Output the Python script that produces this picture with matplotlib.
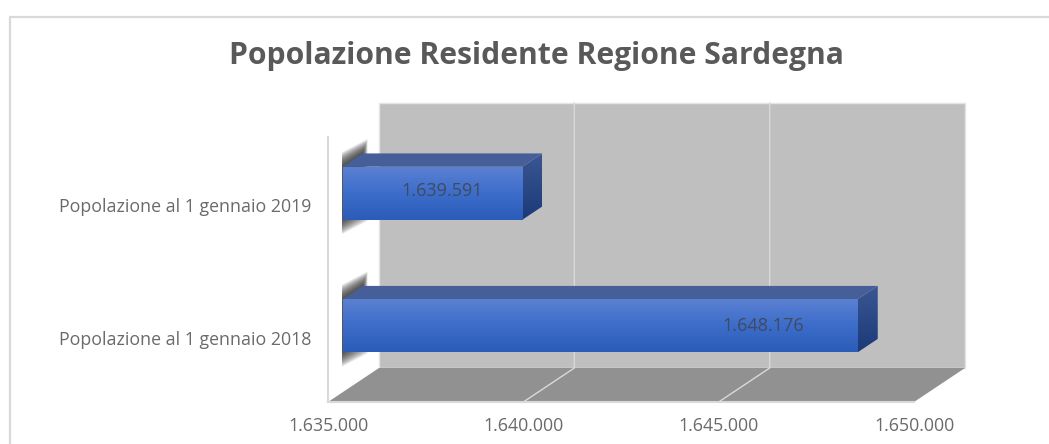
import numpy as np
import matplotlib
matplotlib.use("Agg")
import matplotlib.pyplot as plt
from matplotlib.lines import Line2D
from matplotlib.patches import Polygon
from matplotlib.colors import LinearSegmentedColormap

categories = ["Popolazione al 1 gennaio 2018", "Popolazione al 1 gennaio 2019"]
values = [1648176, 1639591]
value_labels = ["1.648.176", "1.639.591"]
xticks = [1635000, 1640000, 1645000, 1650000]
xticklabels = ["1.635.000", "1.640.000", "1.645.000", "1.650.000"]

W, H = 1049, 444
plt.rcParams["font.family"] = ["Open Sans", "DejaVu Sans"]
fig = plt.figure(figsize=(W / 100, H / 100), dpi=100, facecolor="white")

# chart frame: left and top edges are all that show in the crop
fig.add_artist(Line2D([9.5 / W, 9.5 / W, 1], [0, 1 - 17 / H, 1 - 17 / H], transform=fig.transFigure,
                      color="#d9d9d9", lw=1.6))
fig.text(536.5 / W, 1 - 56 / H, "Popolazione Residente Regione Sardegna", ha="center", va="center",
         fontsize=21.7, fontweight="bold", color="#595959")

L, R, T, B = 328, 914, 137, 402
ax = fig.add_axes([L / W, 1 - B / H, (R - L) / W, (B - T) / H])
x0, x1 = xticks[0], xticks[-1]
y0, y1 = -0.5, 1.5
ax.set_axis_off()

# depth vector, in data units
DX = 51 / (R - L) * (x1 - x0)
DY = 34 / (B - T) * (y1 - y0)
PXX = (x1 - x0) / (R - L)
PXY = (y1 - y0) / (B - T)

def p(x, y, d=0.0):
    return (x + d * DX, y + d * DY)

def poly(pts, **kw):
    kw.setdefault("lw", 0)
    kw.setdefault("clip_on", False)
    g = Polygon(pts, closed=True, **kw)
    ax.add_patch(g)
    return g

def grad(pts, cols, z):
    clip = poly(pts, fc="none", zorder=z)
    xs = [q[0] for q in pts]
    ys = [q[1] for q in pts]
    cm = LinearSegmentedColormap.from_list("g", cols)
    im = ax.imshow(np.linspace(0, 1, 64)[:, None], cmap=cm, aspect="auto", origin="upper",
                   extent=(min(xs), max(xs), min(ys), max(ys)), zorder=z, interpolation="bilinear")
    im.set_clip_path(clip)

# back wall and floor
poly([p(x0, y0, 1), p(x1, y0, 1), p(x1, y1, 1), p(x0, y1, 1)], fc="#bfbfbf", ec="#e4e4e4", lw=1.0, zorder=1)
poly([p(x0, y0, 0), p(x1, y0, 0), p(x1, y0, 1), p(x0, y0, 1)], fc="#919191", zorder=2)
ax.plot(*zip(p(x0, y0), p(x0, y1)), color="#d9d9d9", lw=1.5, clip_on=False, zorder=2)
ax.plot(*zip(p(x0, y0), p(x1, y0)), color="#d9d9d9", lw=1.5, clip_on=False, zorder=2)

# gridlines on floor and wall
for t in xticks[1:-1]:
    ax.plot(*zip(p(t, y0, 0), p(t, y0, 1), p(t, y1, 1)), color="#d9d9d9", lw=1.0, clip_on=False, zorder=3)

# tick labels
for t, lab in zip(xticks, xticklabels):
    ax.annotate(lab, (t, y0), xytext=(0, -17), textcoords="offset points", ha="center", va="center",
                fontsize=12.8, color="#6a6a6a", annotation_clip=False)

# bars
h = 0.4
d0, d1 = 15 / 51, 35 / 51
offsets = [(-95, 0), (-80, 2)]
for i, (v, cat, lab) in enumerate(zip(values, categories, value_labels)):
    lo, hi = i - h / 2, i + h / 2
    # soft shadow behind the bar's base end
    for k in range(16):
        ey = (1 + k * 0.9) * PXY
        ex = k * 0.3 * PXX
        xl = x0 + d0 * DX - 1 * PXX
        xr = x0 + d1 * DX + ex
        yb_l = lo + d0 * DY - ey
        yb_r = lo + d1 * DY - ey
        yt_l = hi + d0 * DY + ey
        yt_r = hi + d1 * DY + ey
        poly([(xl, yb_l), (xr, yb_r), (xr, yt_r), (xl, yt_l)], fc="#2c2c2c", alpha=0.09, zorder=4)
    bar = ax.barh([i], [v - x0], left=[x0 + d0 * DX], height=h, color="#3b6cc8", zorder=7, clip_on=False)[0]
    bar.set_y(lo + d0 * DY)
    grad([p(v, lo, d0), p(v, lo, d1), p(v, hi, d1), p(v, hi, d0)], ["#3a5793", "#1c3a78"], 6)
    poly([p(x0, hi, d0), p(v, hi, d0), p(v, hi, d1), p(x0, hi, d1)], fc="#465f99", zorder=6)
    cm = LinearSegmentedColormap.from_list("f", ["#5b80d2", "#3c6dca", "#2a5cb8"])
    ax.imshow(np.linspace(0, 1, 64)[:, None], cmap=cm, aspect="auto", origin="upper",
              extent=(x0 + d0 * DX, v + d0 * DX, lo + d0 * DY, hi + d0 * DY),
              zorder=8, interpolation="bilinear")
    ax.annotate(lab, p(v, i, d0), xytext=(offsets[i][0] * 0.72, offsets[i][1] * 0.72), textcoords="offset points",
                ha="center", va="center", fontsize=13, color="#404a60", zorder=9, annotation_clip=False)
    ax.annotate(cat, (x0, i), xytext=(-12, -3), textcoords="offset points", ha="right", va="center",
                fontsize=12.8, color="#6a6a6a", annotation_clip=False)

ax.set_xlim(x0, x1)
ax.set_ylim(y0, y1)
fig.savefig("out.png", dpi=100, facecolor="white")
